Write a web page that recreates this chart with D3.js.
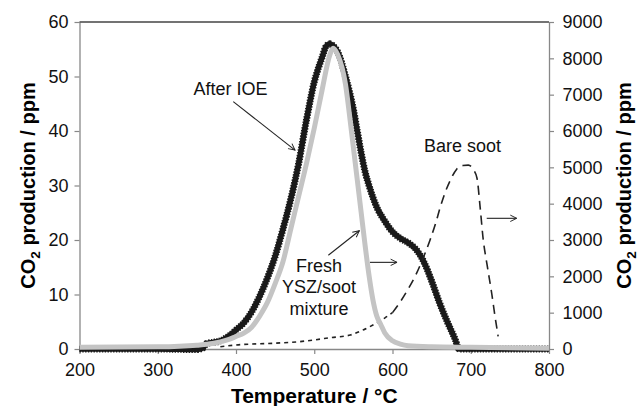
<!DOCTYPE html>
<html><head><meta charset="utf-8">
<script src="https://cdn.jsdelivr.net/npm/d3@7"></script>
<style>body{margin:0;background:#fff}svg{display:block}text{font-family:"Liberation Sans",Arial,sans-serif}</style>
</head><body><svg id="c" width="638" height="406"></svg>
<script>
// ---- data ----
const ioeT = [200,250,300,350,358,362,370,380,390,400,410,420,430,440,450,460,470,480,490,500,510,515,520,525,530,540,550,555,560,565,570,580,590,600,610,620,630,640,650,660,670,680,685,700,750,800];
const ioeV = [0,0,0,-0.1,0.2,1.0,1.2,1.5,2.3,3.5,4.8,6.8,9.6,13,17,22,27.5,34,42,49,53.5,55.5,56,55.5,54.5,50,44,40,36,32.5,30,26,23.5,21.5,20.3,19.5,18.3,16,12.5,8.5,5,1.8,0,0,0,0];
const freshT = [200,300,350,370,380,390,400,410,420,430,440,450,460,470,480,490,500,510,520,524,530,540,545,550,555,560,565,570,575,580,585,590,600,610,620,650,700,800];
const freshV = [0.3,0.4,0.7,1.0,1.3,1.7,2.3,2.9,4,6,8.5,12,16,22,28,34,40.5,47.5,54,55.2,54,48.5,43,37,31,25,19,13.5,9,6,4.5,3,1.5,0.9,0.6,0.4,0.3,0.15];
const bareT = [380,400,450,480,500,520,546,560,575,590,600,610,620,630,640,648,655,661,668,674,682,690,697,703,708,712,716,721,727,731,735];
const bareV = [60,110,160,200,250,310,385,500,660,850,1000,1300,1650,2050,2550,3000,3450,3900,4350,4650,4950,5050,5060,4950,4700,3900,3000,2300,1500,900,350];
const xTicks = [200,300,400,500,600,700,800];
const yLeftTicks = [0,10,20,30,40,50,60];
const yRightTicks = [0,1000,2000,3000,4000,5000,6000,7000,8000,9000];

const svg = d3.select("#c");
const L=79.5, R=549, T=22, B=349;
const x = d3.scaleLinear().domain([200,800]).range([L,R]);
const yL = d3.scaleLinear().domain([0,60]).range([B,T]);
const yR = d3.scaleLinear().domain([0,9000]).range([B,T]);

const defs = svg.append("defs");
defs.append("marker").attr("id","ah").attr("viewBox","0 0 10 10").attr("refX",9).attr("refY",5)
  .attr("markerWidth",8).attr("markerHeight",8).attr("orient","auto").attr("markerUnits","userSpaceOnUse")
  .append("path").attr("d","M1,1 L9,5 L1,9").attr("fill","none").attr("stroke","#222").attr("stroke-width",1.2);

// axes
const gx = svg.append("g").attr("transform",`translate(0,${B})`).call(d3.axisBottom(x).tickValues(xTicks).tickFormat(d3.format("d")).tickSize(5).tickPadding(9).tickSizeOuter(0));
const gl = svg.append("g").attr("transform",`translate(${L},0)`).call(d3.axisLeft(yL).tickValues(yLeftTicks).tickFormat(d3.format("d")).tickSize(5).tickPadding(6).tickSizeOuter(0));
const gr = svg.append("g").attr("transform",`translate(${R},0)`).call(d3.axisRight(yR).tickValues(yRightTicks).tickFormat(d3.format("d")).tickSize(5).tickPadding(8.5).tickSizeOuter(0));
[gx,gl,gr].forEach(g=>{
  g.selectAll("path.domain").attr("stroke","#888").attr("stroke-width",1.3);
  g.selectAll(".tick line").attr("stroke","#888").attr("stroke-width",1.2);
  g.selectAll(".tick text").attr("font-size",18).attr("fill","#111").style("font-family","'Liberation Sans',Arial,sans-serif");
});
svg.append("line").attr("x1",L).attr("x2",R).attr("y1",T).attr("y2",T).attr("stroke","#444").attr("stroke-width",1.3);

// series
const lineL = d3.line().x(d=>x(d[0])).y(d=>yL(d[1])).curve(d3.curveMonotoneX);
const lineR = d3.line().x(d=>x(d[0])).y(d=>yR(d[1])).curve(d3.curveMonotoneX);
const ioe = ioeT.map((t,i)=>[t,ioeV[i]]);
const fresh = freshT.map((t,i)=>[t,freshV[i]]);
const bare = bareT.map((t,i)=>[t,bareV[i]]);

svg.append("path").attr("d",lineL(ioe)).attr("fill","none").attr("stroke","#1a1a1a").attr("stroke-width",5.5).attr("stroke-linejoin","round");
svg.append("path").attr("d",lineL(ioe)).attr("fill","none").attr("stroke","#1a1a1a").attr("stroke-width",7).attr("stroke-dasharray","1.4,1.4");
svg.append("path").attr("d",lineR(bare.filter(d=>d[0]<=600))).attr("fill","none").attr("stroke","#222").attr("stroke-width",1.6).attr("stroke-dasharray","4,4");
svg.append("path").attr("d",lineR(bare.filter(d=>d[0]>=600))).attr("fill","none").attr("stroke","#222").attr("stroke-width",1.6).attr("stroke-dasharray","9,6");
svg.append("path").attr("d",lineL(fresh)).attr("fill","none").attr("stroke","#c4c4c4").attr("stroke-width",5).attr("stroke-linejoin","round");

// annotations
const ann = svg.append("g").attr("font-size",18).attr("fill","#111");
ann.append("text").attr("x",x(393)).attr("y",yL(46.6)).attr("text-anchor","middle").text("After IOE");
const freshLines = ["Fresh","YSZ/soot","mixture"];
const freshV0 = [14.2,10.2,6.2];
freshLines.forEach((s,i)=>ann.append("text").attr("x",x(506)).attr("y",yL(freshV0[i])).attr("text-anchor","middle").text(s));
ann.append("text").attr("x",x(689.5)).attr("y",yR(5430)).attr("text-anchor","middle").text("Bare soot");
const arrow=(x1,y1,x2,y2)=>svg.append("line").attr("x1",x1).attr("y1",y1).attr("x2",x2).attr("y2",y2)
  .attr("stroke","#222").attr("stroke-width",1.1).attr("marker-end","url(#ah)");
arrow(x(396.5),yL(45.4),x(475.4),yL(36.5));
arrow(x(518),yL(17.2),x(557.6),yL(21.7));
arrow(x(571.2),yL(15.9),x(605.8),yL(15.9));
arrow(x(720.4),yR(3597),x(758.7),yR(3597));

// titles
svg.append("text").attr("x",(L+R)/2).attr("y",403).attr("text-anchor","middle").attr("font-size",21).attr("font-weight","bold").text("Temperature / °C");
function ytitle(cx){
  const t = svg.append("text").attr("transform",`translate(${cx},${(T+B)/2}) rotate(-90)`).attr("text-anchor","middle")
    .attr("font-size",20).attr("font-weight","bold");
  t.append("tspan").text("CO");
  t.append("tspan").attr("font-size",13.5).attr("dy",4.5).text("2");
  t.append("tspan").attr("dy",-4.5).text(" production / ppm");
}
ytitle(35);
ytitle(631);
</script></body></html>
